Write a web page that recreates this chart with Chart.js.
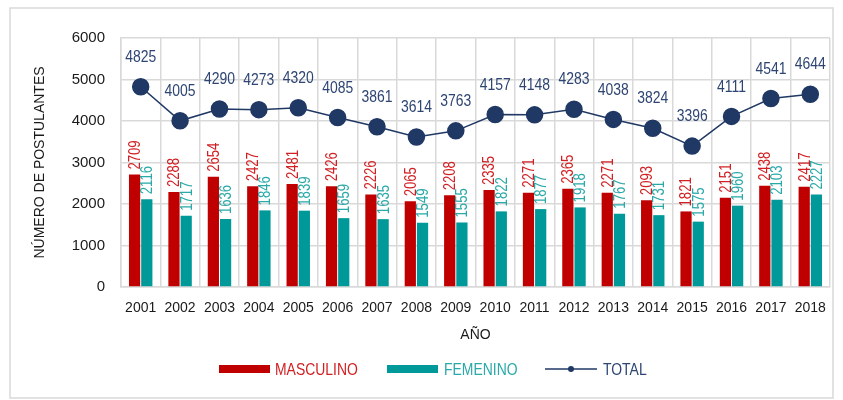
<!DOCTYPE html>
<html lang="es">
<head>
<meta charset="utf-8">
<title>Postulantes por año</title>
<script src="https://cdn.jsdelivr.net/npm/chart.js@4.4.0/dist/chart.umd.min.js"></script>
<style>
  body { margin: 0; background: #fff; }
</style>
</head>
<body>
<canvas id="grafico" width="843" height="400"></canvas>
<script>
// datos del gráfico
const anios = ['2001','2002','2003','2004','2005','2006','2007','2008','2009','2010','2011','2012','2013','2014','2015','2016','2017','2018'];
const masculino = [2709, 2288, 2654, 2427, 2481, 2426, 2226, 2065, 2208, 2335, 2271, 2365, 2271, 2093, 1821, 2151, 2438, 2417];
const femenino = [2116, 1717, 1636, 1846, 1839, 1659, 1635, 1549, 1555, 1822, 1877, 1918, 1767, 1731, 1575, 1960, 2103, 2227];
const total = [4825, 4005, 4290, 4273, 4320, 4085, 3861, 3614, 3763, 4157, 4148, 4283, 4038, 3824, 3396, 4111, 4541, 4644];

const SANS = '"Liberation Sans", Arial, sans-serif';
const ROJO = '#c00000', VERDE = '#009999', AZUL = '#203864';
const GRIS = '#d9d9d9';
const ESTRECHO = 0.82; // Liberation Sans comprimida, imita Arial Narrow

// texto "estrecho": escala horizontal sobre Liberation Sans
function textoEstrecho(ctx, txt, x, y, rot, align) {
  ctx.save();
  ctx.translate(x, y);
  if (rot) ctx.rotate(rot);
  ctx.scale(ESTRECHO, 1);
  ctx.textAlign = align;
  ctx.fillText(txt, 0, 0);
  ctx.restore();
}

// marco y fondo
const marco = {
  id: 'marco',
  beforeDraw(chart) {
    const ctx = chart.ctx;
    ctx.save();
    ctx.fillStyle = '#fff';
    ctx.fillRect(0, 0, chart.width, chart.height);
    ctx.strokeStyle = GRIS;
    ctx.lineWidth = 1.5;
    ctx.strokeRect(10, 8, 823, 390);
    ctx.restore();
  }
};

// etiquetas de datos
const etiquetas = {
  id: 'etiquetas',
  afterDatasetsDraw(chart) {
    const ctx = chart.ctx;
    ctx.save();
    ctx.textBaseline = 'middle';
    ctx.font = '16px ' + SANS;
    [[0, '#d21f22'], [1, '#2aa9a9']].forEach(([di, col]) => {
      const meta = chart.getDatasetMeta(di);
      const vals = chart.data.datasets[di].data;
      ctx.fillStyle = col;
      meta.data.forEach((bar, i) => {
        textoEstrecho(ctx, String(vals[i]), bar.x + 1, bar.y - 5, -Math.PI / 2, 'left');
      });
    });
    const metaT = chart.getDatasetMeta(2);
    ctx.fillStyle = '#2e4573';
    ctx.font = '17px ' + SANS;
    ctx.textBaseline = 'bottom';
    metaT.data.forEach((p, i) => {
      textoEstrecho(ctx, String(total[i]), p.x, p.y - 21, 0, 'center');
    });
    ctx.restore();
  }
};

// leyenda inferior
const leyenda = {
  id: 'leyenda',
  afterDraw(chart) {
    const ctx = chart.ctx;
    const y = 369;
    ctx.save();
    ctx.font = '17px ' + SANS;
    ctx.textBaseline = 'middle';
    ctx.fillStyle = ROJO;
    ctx.fillRect(219, 365, 51, 8);
    ctx.fillStyle = '#d21f22';
    textoEstrecho(ctx, 'MASCULINO', 275, y + 1, 0, 'left');
    ctx.fillStyle = VERDE;
    ctx.fillRect(387, 365, 51, 8);
    ctx.fillStyle = '#2aa9a9';
    textoEstrecho(ctx, 'FEMENINO', 444, y + 1, 0, 'left');
    ctx.strokeStyle = AZUL;
    ctx.lineWidth = 1.5;
    ctx.beginPath();
    ctx.moveTo(545, y);
    ctx.lineTo(597, y);
    ctx.stroke();
    ctx.fillStyle = AZUL;
    ctx.beginPath();
    ctx.arc(571, y, 3, 0, Math.PI * 2);
    ctx.fill();
    ctx.fillStyle = '#2e4573';
    textoEstrecho(ctx, 'TOTAL', 603, y + 1, 0, 'left');
    ctx.restore();
  }
};

new Chart(document.getElementById('grafico'), {
  data: {
    labels: anios,
    datasets: [
      { type: 'bar', label: 'MASCULINO', data: masculino, backgroundColor: ROJO, order: 1,
        categoryPercentage: 0.62, barPercentage: 0.92 },
      { type: 'bar', label: 'FEMENINO', data: femenino, backgroundColor: VERDE, order: 1,
        categoryPercentage: 0.62, barPercentage: 0.92 },
      { type: 'line', label: 'TOTAL', data: total, borderColor: AZUL, backgroundColor: AZUL,
        borderWidth: 1.5, pointRadius: 8, pointHoverRadius: 8, order: 0, tension: 0 }
    ]
  },
  options: {
    responsive: false,
    animation: false,
    layout: { padding: { left: 0, right: 13, top: 38, bottom: 53 } },
    plugins: { legend: { display: false }, tooltip: { enabled: false } },
    scales: {
      x: {
        grid: { color: GRIS, lineWidth: 1.5, offset: true, drawTicks: false },
        border: { color: GRIS, width: 1.5 },
        ticks: { color: '#1a1a1a', font: { family: SANS, size: 14 }, padding: 13, maxRotation: 0, autoSkip: false },
        title: { display: true, text: 'AÑO', color: '#1a1a1a', font: { family: SANS, size: 14 }, padding: { top: 0, bottom: 3 } },
        afterFit(s) { s.height = 60; }
      },
      y: {
        min: 0, max: 6000,
        grid: { color: GRIS, lineWidth: 1.5, drawTicks: false },
        border: { color: GRIS, width: 1.5 },
        ticks: { stepSize: 1000, color: '#1a1a1a', font: { family: SANS, size: 15 }, padding: 16,
          callback: v => String(v) },
        title: { display: true, text: 'NÚMERO DE POSTULANTES', color: '#1a1a1a', font: { family: SANS, size: 14 }, padding: { top: 32, bottom: 0 } },
        afterFit(s) { s.width = 121; }
      }
    }
  },
  plugins: [marco, etiquetas, leyenda]
});
</script>
</body>
</html>
